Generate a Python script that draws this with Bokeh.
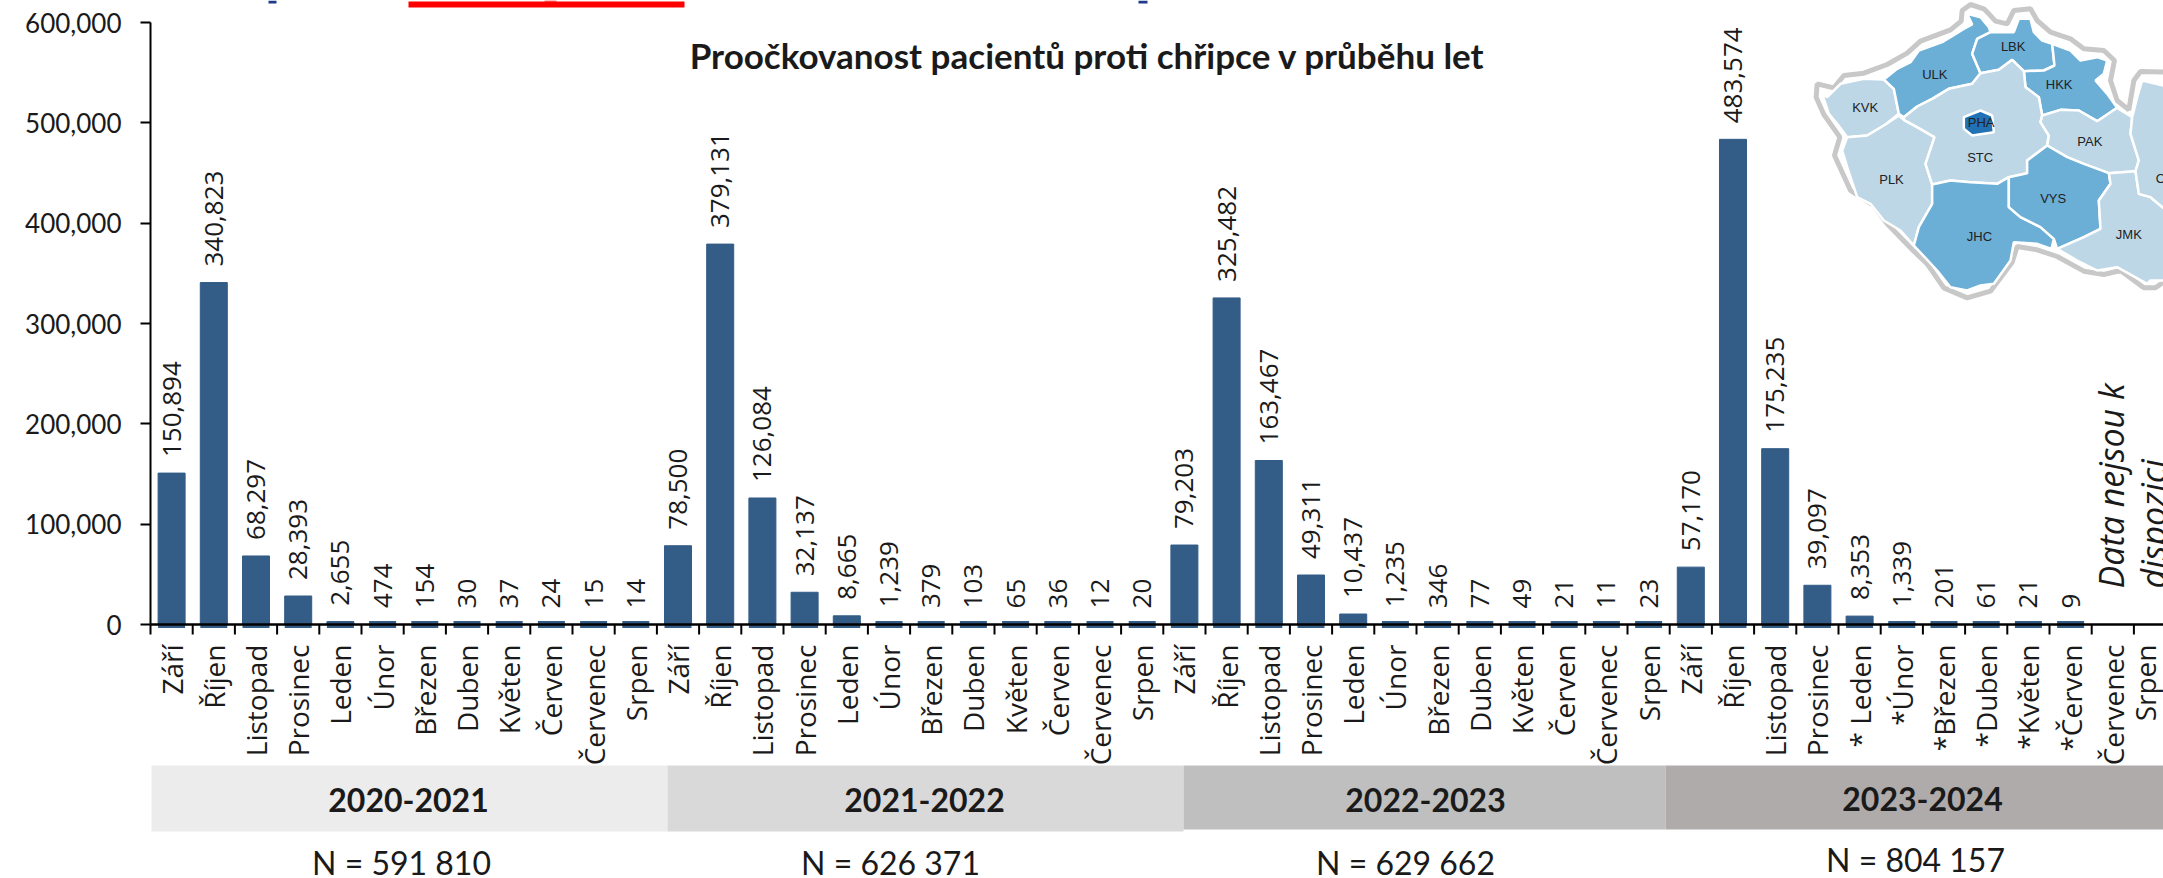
import math
from bokeh.embed import file_html
from bokeh.resources import INLINE
from bokeh.plotting import figure
from bokeh.models import Range1d, FixedTicker, NumeralTickFormatter, ColumnDataSource
from bokeh.core.properties import value

# ---- data ----
months = ["Září","Říjen","Listopad","Prosinec","Leden","Únor","Březen","Duben","Květen","Červen","Červenec","Srpen"]
months_last = ["Září","Říjen","Listopad","Prosinec","* Leden","*Únor","*Březen","*Duben","*Květen","*Červen","Červenec","Srpen"]
v2020 = [150894,340823,68297,28393,2655,474,154,30,37,24,15,14]
v2021 = [78500,379131,126084,32137,8665,1239,379,103,65,36,12,20]
v2022 = [79203,325482,163467,49311,10437,1235,346,77,49,21,11,23]
v2023 = [57170,483574,175235,39097,8353,1339,201,61,21,9,None,None]
seasons = ["2020-2021","2021-2022","2022-2023","2023-2024"]
totals = ["N = 591 810","N = 626 371","N = 629 662","N = 804 157"]
y_ticks = [0,100000,200000,300000,400000,500000,600000]
title_text = "Proočkovanost pacientů proti chřipce v průběhu let"
regions = ["KVK","ULK","LBK","HKK","PLK","STC","PAK","JHC","VYS","JMK","OLK","PHA"]

# map outline and regions, in map units (1 unit = 1/3 px)
outline = [(660,12),(635,30),(632,62),(600,88),(510,122),(470,158),(410,192),(340,218),(280,225),(250,262),(200,250),(197,290),(220,342),(268,410),(252,465),(300,570),(370,615),(410,670),(490,752),(530,790),(580,862),(650,892),(720,872),(785,785),(800,738),(860,748),(920,768),(1000,812),(1060,822),(1110,810),(1180,862),(1215,862),(1260,830),(1260,215),(1170,213),(1150,240),(1135,328),(1100,300),(1080,240),(1092,180),(1060,150),(1000,145),(960,115),(900,95),(860,60),(840,25),(790,30),(770,70),(735,62),(715,40),(700,25)]
shapes = {
 "ULK":[(400,237),(440,205),(480,185),(505,150),(575,125),(640,85),(665,72),(650,40),(690,50),(715,80),(720,95),(680,115),(665,160),(690,218),(665,250),(595,265),(545,295),(500,318),(460,350),(445,340),(430,265)],
 "LBK":[(720,95),(790,95),(805,55),(840,55),(850,95),(875,120),(905,130),(912,195),(880,210),(820,212),(785,178),(745,208),(690,218),(665,160),(680,115)],
 "HKK":[(905,130),(960,150),(990,180),(1040,170),(1070,180),(1060,220),(1035,240),(1070,280),(1100,322),(1040,362),(985,330),(930,328),(875,345),(865,290),(825,260),(820,212),(880,210),(912,195)],
 "KVK":[(400,237),(430,265),(445,340),(405,372),(350,405),(290,410),(260,370),(235,340),(215,280),(230,290),(270,250),(340,235)],
 "STC":[(460,350),(500,318),(545,295),(595,265),(665,250),(690,218),(745,208),(785,178),(820,212),(825,260),(865,290),(875,345),(870,365),(895,405),(890,435),(830,480),(830,518),(775,530),(740,550),(660,545),(600,540),(545,552),(525,490),(552,410),(500,380),(460,358)],
 "PLK":[(290,410),(350,405),(405,372),(445,345),(460,358),(500,380),(552,410),(525,490),(545,552),(545,610),(505,680),(490,735),(450,690),(400,660),(360,610),(320,590),(290,500),(275,450)],
 "JHC":[(545,552),(600,540),(660,545),(740,550),(775,530),(775,620),(810,650),(870,680),(910,715),(903,745),(860,730),(790,725),(780,780),(730,850),(690,855),(650,870),(600,860),(560,810),(490,735),(505,680),(545,610)],
 "VYS":[(890,435),(950,470),(1000,490),(1075,518),(1080,550),(1045,600),(1050,685),(1000,710),(920,745),(910,715),(870,680),(810,650),(775,620),(775,530),(830,518),(830,480)],
 "PAK":[(875,345),(930,328),(985,330),(1040,362),(1100,322),(1145,350),(1140,400),(1165,480),(1155,512),(1075,518),(1000,490),(950,470),(890,435),(895,405),(870,365)],
 "JMK":[(920,745),(1000,710),(1050,685),(1045,600),(1080,550),(1075,518),(1155,512),(1165,580),(1200,590),(1260,640),(1260,840),(1200,840),(1190,850),(1100,800),(1040,810),(980,780)],
 "OLK":[(1145,350),(1160,290),(1175,240),(1260,260),(1260,640),(1200,590),(1165,580),(1155,512),(1165,480),(1140,400)],
 "PHA":[(640,350),(690,330),(725,345),(730,395),(665,405),(640,385)],
}
label_at = {"KVK":(344,322),"ULK":(553,222),"LBK":(788,138),"HKK":(926,251),"PLK":(423,538),"STC":(689,472),"PAK":(1018,424),"JHC":(687,707),"VYS":(908,593),"JMK":(1135,703),"OLK":(1255,534),"PHA":(692,366)}
dark = {"ULK","LBK","HKK","JHC","VYS"}

# ---- layout ----
W, H = 2163, 878
X0, UNIT = 150.0, 42.2      # page x of first category edge, px per category
Y0, PX_PER = 624.0, 602/600000  # page y of zero, px per patient
LAT = "Lato"
ROT = "Open Sans"

p = figure(width=W, height=H, output_backend="svg", toolbar_location=None,
           x_range=Range1d(-X0/UNIT, (W-X0)/UNIT),
           y_range=Range1d(-(H-Y0)/PX_PER, Y0/PX_PER),
           min_border=0, outline_line_color=None)
p.grid.visible = False
p.extra_x_ranges = {"px": Range1d(0, W)}
p.extra_y_ranges = {"px": Range1d(H, 0)}

# axes
p.xaxis.fixed_location = 0
p.yaxis.fixed_location = 0
labels = months*3 + months_last
centers = [i+0.5 for i in range(48)]
p.xaxis.ticker = FixedTicker(ticks=centers, minor_ticks=[])
p.xaxis.bounds = (0, 48)
p.xaxis.major_label_overrides = {c: l for c, l in zip(centers, labels)}
p.xaxis.major_label_orientation = math.pi/2
p.xaxis.major_tick_line_color = None
p.xaxis.minor_tick_line_color = None
p.xaxis.major_tick_in = 0
p.xaxis.major_tick_out = 0
p.xaxis.major_label_standoff = 20
p.xaxis.major_label_text_font = ROT
p.xaxis.major_label_text_font_size = "28px"
p.xaxis.major_label_text_color = "#1a1a1a"
p.xaxis.axis_line_width = 2.5
p.xaxis.axis_line_color = "black"

# tick marks between the month categories
tick_edges = list(range(49))
p.segment(x0=tick_edges, x1=tick_edges, y0=[624]*49, y1=[634]*49, line_color="black", line_width=2, y_range_name="px")

p.yaxis.ticker = FixedTicker(ticks=y_ticks, minor_ticks=[])
p.yaxis.bounds = (0, 600000)
p.yaxis.formatter = NumeralTickFormatter(format="0,0")
p.yaxis.major_tick_in = 0
p.yaxis.major_tick_out = 10
p.yaxis.major_tick_line_width = 2
p.yaxis.major_tick_line_color = "black"
p.yaxis.minor_tick_line_color = None
p.yaxis.axis_line_width = 2
p.yaxis.major_label_standoff = 19
p.yaxis.major_label_text_font = LAT
p.yaxis.major_label_text_font_size = "26px"
p.yaxis.major_label_text_color = "#1a1a1a"

# bars
vals = v2020 + v2021 + v2022 + v2023
xs = [c for c, v in zip(centers, vals) if v is not None]
ys = [v for v in vals if v is not None]
src = ColumnDataSource(dict(x=xs, top=ys, base=[0]*len(ys), txt=[f"{v:,}" for v in ys]))
p.vbar(x="x", top="top", bottom=0, width=0.64, source=src, fill_color="#335C87", line_color="#335C87", line_width=1)
p.rect(x="x", y="base", width=0.64, height=7, height_units="screen", source=src, fill_color="#335C87", line_color=None)
p.text(x="x", y="top", text="txt", source=src, angle=math.pi/2, text_align="left", text_baseline="middle",
       y_offset=-16, text_font=value(ROT), text_font_size="26px", text_color="#1a1a1a")

# season bands
band_edges = [151, 667, 1183, 1665, W]
band_colors = ["#ECECEC","#D9D9D9","#BFBFBF","#AFABAB"]
band_bottom = [831, 831, 829, 829]
p.quad(left=band_edges[:-1], right=band_edges[1:], top=[765]*4, bottom=band_bottom, fill_color=band_colors,
       line_color=None, x_range_name="px", y_range_name="px")
p.text(x=[408,924,1425,1922], y=[799,799,799,798], text=seasons, text_align="center", text_baseline="middle",
       text_font=value(LAT), text_font_style="bold", text_font_size="32px", text_color="#1a1a1a",
       x_range_name="px", y_range_name="px")
p.text(x=[401,890,1405,1915], y=[862,862,862,859], text=totals, text_align="center", text_baseline="middle",
       text_font=value(LAT), text_font_size="32px", text_color="#1a1a1a",
       x_range_name="px", y_range_name="px")

# title
p.text(x=[1087], y=[54], text=[title_text], text_align="center", text_baseline="middle",
       text_font=value(LAT), text_font_style="bold", text_font_size="35px", text_color="#1a1a1a",
       x_range_name="px", y_range_name="px")

# no data note
p.text(x=[2110, 2152], y=[588, 588], text=["Data nejsou k", "dispozici"], angle=math.pi/2, text_align="left",
       text_baseline="middle", text_font=value("Open Sans"), text_font_style="italic", text_font_size="34px",
       text_color="#1a1a1a", x_range_name="px", y_range_name="px")

# map
mx = lambda pts: [1750 + a/3 for a, _ in pts]
my = lambda pts: [b/3 for _, b in pts]
p.patch(mx(outline), my(outline), fill_color="white", line_color="#C8C8C8", line_width=5,
        x_range_name="px", y_range_name="px")
p.patches([mx(shapes[r]) for r in regions], [my(shapes[r]) for r in regions],
          fill_color=["#2171B5" if r == "PHA" else "#6BAED6" if r in dark else "#BDD7E7" for r in regions],
          line_color="white", line_width=2.5, x_range_name="px", y_range_name="px")
p.text(x=[1750+label_at[r][0]/3 for r in regions], y=[label_at[r][1]/3 for r in regions], text=regions,
       text_align="center", text_baseline="middle", text_font=value("Liberation Sans"), text_font_size="13px",
       text_color="#222222", x_range_name="px", y_range_name="px")

# cut-off header fragments at the very top of the page
p.quad(left=[408,544], right=[684,556], top=[1,0], bottom=[7,1], fill_color="#FF0000", line_color=None,
       x_range_name="px", y_range_name="px")
p.quad(left=[268,1138], right=[276,1147], top=[0,0], bottom=[3,3], fill_color="#1F3A8A", line_color=None,
       x_range_name="px", y_range_name="px")

open("out.html", "w").write(file_html(p, INLINE))
